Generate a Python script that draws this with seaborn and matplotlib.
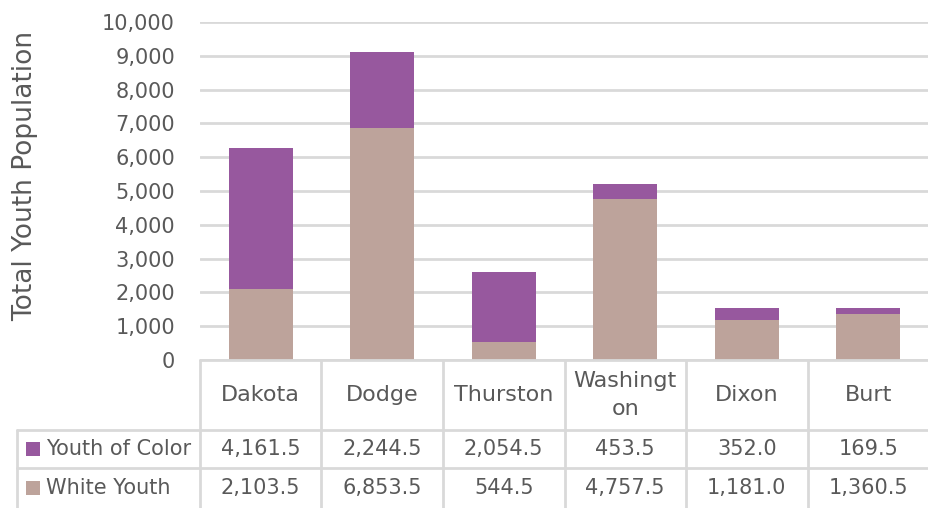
import matplotlib
matplotlib.use("Agg")
import matplotlib.pyplot as plt
import seaborn as sns
import pandas as pd
from matplotlib.lines import Line2D
from matplotlib.patches import Rectangle

counties = ["Dakota", "Dodge", "Thurston", "Washington", "Dixon", "Burt"]
header_labels = ["Dakota", "Dodge", "Thurston", "Washingt\non", "Dixon", "Burt"]
youth_of_color = [4161.5, 2244.5, 2054.5, 453.5, 352.0, 169.5]
white_youth = [2103.5, 6853.5, 544.5, 4757.5, 1181.0, 1360.5]
series_names = ["Youth of Color", "White Youth"]
y_ticks = [0, 1000, 2000, 3000, 4000, 5000, 6000, 7000, 8000, 9000, 10000]

purple = "#97589E"
tan = "#BDA39B"
grid_c = "#D9D9D9"
text_c = "#595959"

sns.set_theme(style="white")
plt.rcParams['font.family'] = ['DejaVu Sans']

W, H = 929, 508
fig = plt.figure(figsize=(W / 100, H / 100), dpi=100)

x0, x1 = 200, 929
y_top, y_bot = 22, 360
ax = fig.add_axes([x0 / W, 1 - y_bot / H, (x1 - x0) / W, (y_bot - y_top) / H])

df = pd.DataFrame({"county": counties,
                   "total": [a + b for a, b in zip(youth_of_color, white_youth)],
                   "white": white_youth})
sns.barplot(data=df, x="county", y="total", color=purple, width=0.53,
            saturation=1, ax=ax, zorder=3, linewidth=0)
sns.barplot(data=df, x="county", y="white", color=tan, width=0.53,
            saturation=1, ax=ax, zorder=3, linewidth=0)

ax.set_xlim(-0.5, len(counties) - 0.5)
ax.set_ylim(0, 10000)
ax.set_yticks(y_ticks)
ax.set_yticklabels([f"{v:,}" for v in y_ticks], color=text_c, fontsize=15)
ax.tick_params(axis="y", length=0, pad=18)
ax.set_xticks([])
ax.set_xlabel("")
ax.set_ylabel("")
ax.grid(axis="y", color=grid_c, linewidth=2, zorder=0)
for s in ax.spines.values():
    s.set_visible(False)

fig.text(25 / W, 1 - 176 / H, "Total Youth Population", rotation=90,
         ha="center", va="center", fontsize=19, color=text_c)

# data table
def fx(px):
    return px / W

def fy(py):
    return 1 - py / H

lw = 2
ncol = len(counties)
cw = (x1 - x0) / ncol
hdr_bot, row1_bot, row2_bot = 430, 468, 508
lines = []
lines.append(((x0, x1), (y_bot, y_bot)))
lines.append(((17, x1), (hdr_bot, hdr_bot)))
lines.append(((17, x1), (row1_bot, row1_bot)))
lines.append(((17, 17), (hdr_bot, row2_bot)))
for k in range(ncol):
    xx = x0 + k * cw
    lines.append(((xx, xx), (y_bot, row2_bot)))
for (xs, ys) in lines:
    fig.add_artist(Line2D([fx(xs[0]), fx(xs[1])], [fy(ys[0]), fy(ys[1])],
                          color=grid_c, linewidth=lw, transform=fig.transFigure))

for k, lab in enumerate(header_labels):
    cx = x0 + (k + 0.5) * cw
    fig.text(fx(cx), fy((y_bot + hdr_bot) / 2), lab, ha="center", va="center",
             fontsize=16, color=text_c, linespacing=1.45)

rows = [(youth_of_color, purple, (hdr_bot + row1_bot) / 2),
        (white_youth, tan, (row1_bot + row2_bot) / 2)]
for (vals, col, cy), name in zip(rows, series_names):
    fig.add_artist(Rectangle((fx(26), fy(cy + 7)), 14 / W, 14 / H,
                             facecolor=col, edgecolor="none",
                             transform=fig.transFigure))
    fig.text(fx(46), fy(cy), name, ha="left", va="center", fontsize=15, color=text_c)
    for k, v in enumerate(vals):
        cx = x0 + (k + 0.5) * cw
        fig.text(fx(cx), fy(cy), f"{v:,.1f}", ha="center", va="center",
                 fontsize=15, color=text_c)

fig.savefig("out.png", dpi=100, facecolor="white")
